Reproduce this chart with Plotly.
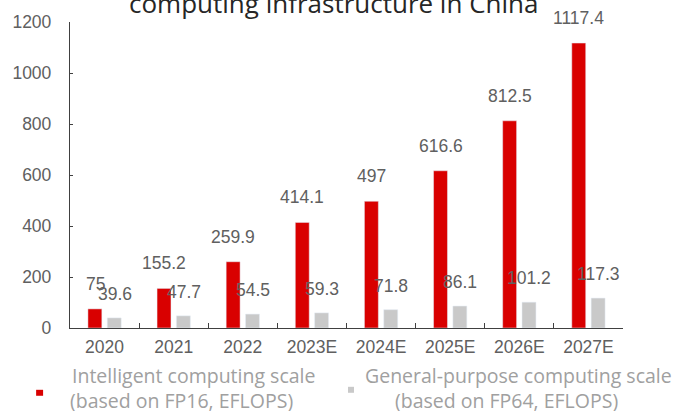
import plotly.graph_objects as go

categories = ["2020", "2021", "2022", "2023E", "2024E", "2025E", "2026E", "2027E"]
intelligent = [75, 155.2, 259.9, 414.1, 497, 616.6, 812.5, 1117.4]
general = [39.6, 47.7, 54.5, 59.3, 71.8, 86.1, 101.2, 117.3]
intelligent_labels = ["75", "155.2", "259.9", "414.1", "497", "616.6", "812.5", "1117.4"]
general_labels = ["39.6", "47.7", "54.5", "59.3", "71.8", "86.1", "101.2", "117.3"]
y_ticks = [0, 200, 400, 600, 800, 1000, 1200]
title_text = "computing infrastructure in China"
legend1_lines = ["Intelligent computing scale", "(based on FP16, EFLOPS)"]
legend2_lines = ["General-purpose computing scale", "(based on FP64, EFLOPS)"]

RED = "#D90000"
GRAY = "#C9C9C9"
LABEL_COLOR = "#606060"

# plot area pixel geometry
L, R, T, B = 68, 61, 21, 83
W, H = 684, 411
pw, ph = W - L - R, H - T - B

def px_x(px):
    return (px - L) / pw

def px_y(py):
    return (H - B - py) / ph

fig = go.Figure()
fig.add_trace(go.Bar(x=categories, y=intelligent, name="Intelligent", marker_color=RED,
                     showlegend=False, hoverinfo="x+y"))
fig.add_trace(go.Bar(x=categories, y=general, name="General", marker_color=GRAY,
                     showlegend=False, hoverinfo="x+y"))

annotations = []
lab_font = dict(family="Liberation Sans, Arial", size=17.5, color=LABEL_COLOR)
for i, (v, t) in enumerate(zip(intelligent, intelligent_labels)):
    annotations.append(dict(x=i, y=v, text=t, xref="x", yref="y", showarrow=False,
                            xshift=-9.5, yshift=25, yanchor="middle", font=lab_font))
for i, (v, t) in enumerate(zip(general, general_labels)):
    annotations.append(dict(x=i, y=v, text=t, xref="x", yref="y", showarrow=False,
                            xshift=10, yshift=24, yanchor="middle", font=lab_font))

# title (partially cut at the top)
annotations.append(dict(x=px_x(332), y=px_y(2), xref="paper", yref="paper", text=title_text,
                        showarrow=False, xanchor="center", yanchor="middle",
                        font=dict(family="Open Sans", size=26, color="#262626")))

# legend text
leg_font = dict(family="Open Sans", size=19.5, color="#A0A0A0")
leg1_x = [192, 180]
leg2_x = [518, 506]
leg_y = [375.5, 401]
for line, xc, yc in zip(legend1_lines, leg1_x, leg_y):
    annotations.append(dict(x=px_x(xc), y=px_y(yc), xref="paper", yref="paper",
                            text=line, showarrow=False, xanchor="center", yanchor="middle",
                            font=leg_font))
for line, xc, yc in zip(legend2_lines, leg2_x, leg_y):
    annotations.append(dict(x=px_x(xc), y=px_y(yc), xref="paper", yref="paper",
                            text=line, showarrow=False, xanchor="center", yanchor="middle",
                            font=leg_font))

shapes = [
    dict(type="rect", xref="paper", yref="paper", x0=px_x(34), x1=px_x(41),
         y0=px_y(396), y1=px_y(390), fillcolor=RED, line=dict(width=0)),
    dict(type="rect", xref="paper", yref="paper", x0=px_x(347), x1=px_x(353),
         y0=px_y(393), y1=px_y(387), fillcolor=GRAY, line=dict(width=0)),
]

fig.update_layout(
    width=W, height=H,
    margin=dict(l=L, r=R, t=T, b=B, pad=0),
    plot_bgcolor="white", paper_bgcolor="white",
    barmode="group", bargap=0.44, bargroupgap=0.28,
    annotations=annotations, shapes=shapes,
    showlegend=False,
    xaxis=dict(
        type="category", showgrid=False, showline=True, linecolor="#404040", linewidth=1.3,
        ticks="inside", tickson="boundaries", ticklen=5, tickcolor="#404040",
        tickfont=dict(family="Liberation Sans, Arial", size=17.5, color=LABEL_COLOR),
        ticklabelstandoff=3,
    ),
    yaxis=dict(
        range=[0, 1200], tickvals=y_ticks, showgrid=False, zeroline=False,
        showline=True, linecolor="#404040", linewidth=1.3,
        ticks="inside", ticklen=3, tickcolor="#404040",
        tickfont=dict(family="Liberation Sans, Arial", size=17.5, color=LABEL_COLOR),
        ticklabelstandoff=14,
    ),
)

fig.write_html("out.html")
